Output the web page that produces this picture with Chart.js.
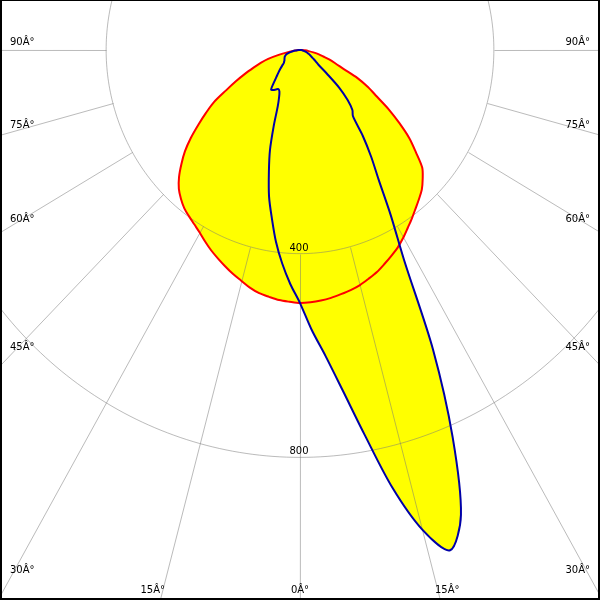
<!DOCTYPE html>
<html>
<head>
<meta charset="utf-8">
<script src="https://cdn.jsdelivr.net/npm/chart.js@4"></script>
<style>
  html, body { margin: 0; padding: 0; background: #fff; }
  canvas { display: block; }
</style>
</head>
<body>
<canvas id="polarChart" width="600" height="600"></canvas>
<script>
// Gamma angles (degrees from nadir)
const gammas = [0, 2.5, 5, 7.5, 10, 12.5, 15, 17.5, 20, 22.5, 25, 27.5, 30, 32.5, 35, 37.5, 40, 42.5, 45,
  47.5, 50, 52.5, 55, 57.5, 60, 62.5, 65, 67.5, 70, 72.5, 75, 77.5, 80, 82.5, 85, 87.5, 90];

// Red plane, right half and left half
const c0 = [497, 496, 494, 491, 487, 483, 478, 471, 464, 455, 446, 437, 426, 414, 403, 392, 382, 372, 358,
  342, 312, 284, 250, 217, 183, 158, 131, 97, 78, 64, 50, 40, 28, 18, 10, 4, 0];
const c180 = [497, 495, 493, 489, 485, 478, 469, 461, 452, 443, 434, 424, 414, 406, 399, 392, 382, 370, 353,
  332, 310, 284, 256, 230, 205, 172, 146, 123, 102, 85, 68, 45, 25, 12, 5, 2, 0];

// Blue plane, right half and left half
const c90 = [497, 550, 603, 674, 767, 880, 975, 1030, 971, 823, 650, 465, 374, 302, 256, 213, 170, 160, 139,
  110, 72, 48, 40, 34, 28, 25, 22, 18, 15, 12, 10, 8, 6, 4, 3, 1, 0];
const c270 = [497, 460, 421, 380, 335, 295, 248, 206, 158, 120, 102, 92, 89, 92, 96, 98, 84, 72, 63,
  55, 48, 42, 40, 38, 37, 36, 35, 34, 32, 30, 26, 20, 15, 10, 6, 2, 0];

// Grid
const rings = [400, 800];
const spokes = [-90, -75, -60, -45, -30, -15, 0, 15, 30, 45, 60, 75, 90];

const rad = d => d * Math.PI / 180;
const polar = (r, g) => ({ x: r * Math.sin(rad(g)), y: -r * Math.cos(rad(g)) });

// build a closed outline: left half from 90 down to 0, then right half up to 90
function outline(left, right) {
  const pts = [];
  for (let i = gammas.length - 1; i >= 0; i--) pts.push(polar(left[i], -gammas[i]));
  for (let i = 1; i < gammas.length; i++) pts.push(polar(right[i], gammas[i]));
  return pts;
}

const polarGrid = {
  id: "polarGrid",
  beforeDatasetsDraw(chart) {
    const { ctx, chartArea: area, scales: { x, y } } = chart;
    const toPx = (r, g) => {
      const p = polar(r, g);
      return [x.getPixelForValue(p.x), y.getPixelForValue(p.y)];
    };
    const [cx, cy] = toPx(0, 0);

    ctx.save();
    ctx.beginPath();
    ctx.rect(area.left, area.top, area.right - area.left, area.bottom - area.top);
    ctx.clip();
    ctx.strokeStyle = "rgba(120,120,120,0.5)";
    ctx.lineWidth = 1;

    rings.forEach(r => {
      ctx.beginPath();
      for (let a = 0; a <= 360; a += 1) {
        const [px, py] = toPx(r, a);
        if (a === 0) ctx.moveTo(px, py); else ctx.lineTo(px, py);
      }
      ctx.stroke();
    });

    spokes.forEach(a => {
      const [x0, y0] = toPx(rings[0], a);
      const [x1, y1] = toPx(3000, a);
      ctx.beginPath();
      ctx.moveTo(Math.round(x0) + 0.5, Math.round(y0) + 0.5);
      ctx.lineTo(x1, y1);
      ctx.stroke();
    });

    ctx.fillStyle = "#000";
    ctx.font = '10px "DejaVu Sans"';

    // ring values
    ctx.textAlign = "center";
    ctx.textBaseline = "alphabetic";
    rings.forEach(r => {
      const [px, py] = toPx(r, 0);
      ctx.fillText(String(r), px - 1, py - 3);
    });

    // angle labels where spokes leave the picture
    spokes.forEach(a => {
      const [fx, fy] = toPx(1000, a);
      const dx = fx - cx, dy = fy - cy;
      let tSide = Infinity, tBottom = Infinity;
      if (Math.abs(dx) > 1e-6) tSide = ((dx > 0 ? area.right : area.left) - cx) / dx;
      if (dy > 1e-6) tBottom = (area.bottom - cy) / dy;
      const text = Math.abs(a) + "Â°";
      if (tSide <= tBottom) {
        const ey = cy + dy * tSide;
        const d = 5 + Math.pow(90 - Math.abs(a), 2) * 0.005;
        ctx.textAlign = dx > 0 ? "right" : "left";
        ctx.fillText(text, dx > 0 ? area.right - 10 : area.left + 10, ey - d);
      } else {
        const ex = cx + dx * tBottom;
        ctx.textAlign = "center";
        ctx.fillText(text, ex + Math.sign(dx) * 7, area.bottom - 7);
      }
    });
    ctx.restore();
  },
  afterDraw(chart) {
    const { ctx, width, height } = chart;
    ctx.save();
    ctx.fillStyle = "#000";
    ctx.fillRect(0, 0, width, 1);
    ctx.fillRect(0, 0, 2, height);
    ctx.fillRect(width - 2, 0, 2, height);
    ctx.fillRect(0, height - 2, width, 2);
    ctx.restore();
  }
};

const ctx = document.getElementById("polarChart").getContext("2d");
new Chart(ctx, {
  type: "scatter",
  data: {
    datasets: [
      {
        label: "C90-C270",
        data: outline(c270, c90),
        showLine: true,
        borderColor: "#0000a8",
        borderWidth: 2,
        backgroundColor: "#ffff00",
        fill: "shape",
        pointRadius: 0,
        tension: 0.3
      },
      {
        label: "C0-C180",
        data: outline(c180, c0),
        showLine: true,
        borderColor: "#ff0000",
        borderWidth: 2,
        backgroundColor: "#ffff00",
        fill: "shape",
        pointRadius: 0,
        tension: 0.3
      }
    ]
  },
  options: {
    responsive: false,
    animation: false,
    devicePixelRatio: 1,
    layout: { padding: 0 },
    scales: {
      x: { type: "linear", min: -619, max: 619, display: false },
      y: { type: "linear", min: -1080, max: 98, display: false }
    },
    plugins: {
      legend: { display: false },
      tooltip: { enabled: false },
      filler: { drawTime: "beforeDatasetsDraw" }
    }
  },
  plugins: [polarGrid]
});
</script>
</body>
</html>
